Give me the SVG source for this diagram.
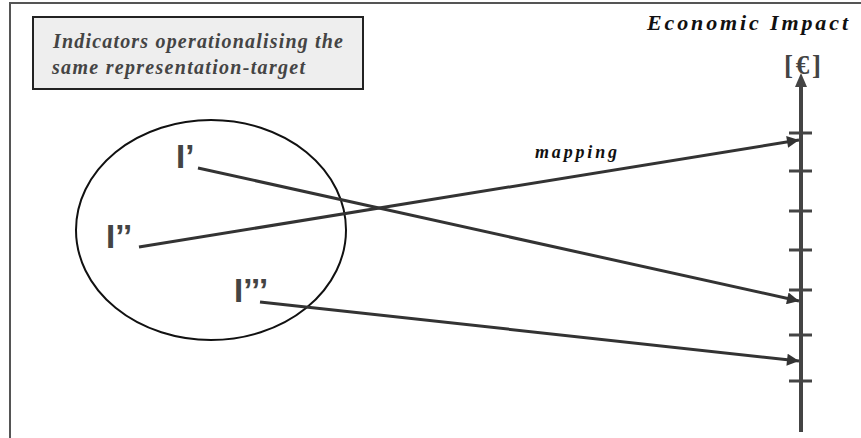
<svg xmlns="http://www.w3.org/2000/svg" width="861" height="438" viewBox="0 0 861 438">
<defs>
<style>
.frame{stroke:#555;stroke-width:2;fill:none}
.lbl{font-family:"Liberation Sans",Arial,sans-serif;font-weight:bold;font-size:33px;fill:#444}
.ser{font-family:"Liberation Serif","Times New Roman",serif;font-weight:bold;font-style:italic}
.conn{stroke:#333;stroke-width:3;fill:none;marker-end:url(#ah)}
.tick{stroke:#444;stroke-width:3}
</style>
<marker id="ah" viewBox="0 0 10 10" refX="10" refY="5" markerWidth="5" markerHeight="4" markerUnits="strokeWidth" orient="auto">
<path d="M0,0 L10,5 L0,10 Z" fill="#333"/>
</marker>
</defs>
<rect width="861" height="438" fill="#fff"/>
<path class="frame" d="M10,438 V3 H861"/>
<g id="title-box">
<rect x="33" y="17" width="330" height="72" fill="#eeeeee" stroke="#222" stroke-width="2"/>
<text class="ser" x="53" y="48" font-size="20" fill="#444" textLength="290" lengthAdjust="spacing">Indicators operationalising the</text>
<text class="ser" x="52" y="74" font-size="20" fill="#444" textLength="253" lengthAdjust="spacing">same representation-target</text>
</g>
<g id="axis">
<text class="ser" x="647" y="30" font-size="22" fill="#111" textLength="201" lengthAdjust="spacing">Economic Impact</text>
<text x="784" y="74" font-family="Liberation Serif,'Times New Roman',serif" font-weight="bold" font-size="27" fill="#444" textLength="37" lengthAdjust="spacing">[€]</text>
<line x1="801" y1="432" x2="801" y2="85" stroke="#444" stroke-width="4"/>
<path d="M801,73 L795,87 L807,87 Z" fill="#444"/>
<line class="tick" x1="789" y1="133" x2="812" y2="133"/>
<line class="tick" x1="789" y1="171" x2="812" y2="171"/>
<line class="tick" x1="789" y1="211" x2="812" y2="211"/>
<line class="tick" x1="789" y1="250" x2="812" y2="250"/>
<line class="tick" x1="789" y1="290" x2="812" y2="290"/>
<line class="tick" x1="789" y1="335" x2="812" y2="335"/>
<line class="tick" x1="789" y1="381" x2="812" y2="381"/>
</g>
<g id="indicator-set">
<ellipse cx="211" cy="230" rx="135" ry="110" fill="none" stroke="#111" stroke-width="2"/>
</g>
<g id="I1"><text class="lbl" x="176" y="168">I’</text></g>
<g id="I2"><text class="lbl" x="106" y="248">I’’</text></g>
<g id="I3"><text class="lbl" x="234" y="302">I’’’</text></g>
<g id="connectors">
<line class="conn" x1="198" y1="168" x2="799" y2="301"/>
<line class="conn" x1="139" y1="247" x2="799" y2="140"/>
<line class="conn" x1="260" y1="302" x2="799" y2="361"/>
<text class="ser" x="535" y="158" font-size="18" fill="#111" textLength="82" lengthAdjust="spacing">mapping</text>
</g>
</svg>
